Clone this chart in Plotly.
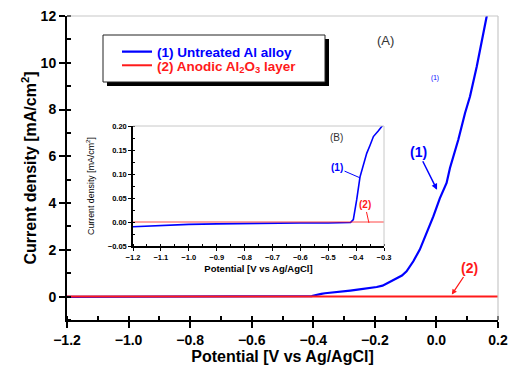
import plotly.graph_objects as go

# ---- data ----
potential_1 = [-1.2, -1.1, -1.0, -0.9, -0.8, -0.7, -0.6, -0.5, -0.42, -0.41, -0.405,
               -0.398, -0.386, -0.374, -0.362, -0.35, -0.338, -0.32, -0.30, -0.28,
               -0.25, -0.22, -0.194, -0.175, -0.162, -0.145, -0.129, -0.112, -0.097,
               -0.085, -0.075, -0.054, -0.032, -0.010, 0.011, 0.033, 0.044, 0.071,
               0.093, 0.109, 0.131, 0.147, 0.163, 0.166]
current_1 = [-0.010, -0.007, -0.005, -0.004, -0.003, -0.003, -0.002, -0.002, -0.001,
             0.005, 0.020, 0.046, 0.094, 0.120, 0.143, 0.160, 0.178, 0.190, 0.205,
             0.26, 0.31, 0.36, 0.41, 0.47, 0.56, 0.65, 0.76, 0.90, 1.08, 1.30, 1.51,
             2.01, 2.72, 3.43, 4.20, 4.86, 5.50, 6.71, 7.85, 8.56, 9.84, 10.83,
             11.97, 12.2]
potential_2 = [-1.2, -0.8, -0.4, 0.0, 0.2]
current_2 = [0.0, 0.0, 0.0, 0.0, 0.0]

name_1 = "(1) Untreated Al alloy"
name_2 = "(2) Anodic Al<sub>2</sub>O<sub>3</sub> layer"
x_title = "Potential [V vs Ag/AgCl]"
y_title = "Current density [mA/cm<sup>2</sup>]"

BLUE = "#0000ff"
RED = "#ff1a1a"
FONT = "Liberation Sans, Arial, sans-serif"

W, H = 509, 367
L, R, T, B = 67, 11, 16, 47
PW, PH = W - L - R, H - T - B


def px_x(p):
    return (p - L) / PW


def px_y(p):
    return (H - B - p) / PH


fig = go.Figure()

# main traces
fig.add_trace(go.Scatter(x=potential_1, y=current_1, mode="lines",
                         line=dict(color=BLUE, width=2.2),
                         name="<span style='color:%s'>%s</span>" % (BLUE, name_1),
                         legend="legend", xaxis="x", yaxis="y"))
fig.add_trace(go.Scatter(x=potential_2, y=current_2, mode="lines",
                         line=dict(color=RED, width=2),
                         name="<span style='color:%s'>%s</span>" % (RED, name_2),
                         legend="legend2", xaxis="x", yaxis="y"))
# inset traces
fig.add_trace(go.Scatter(x=potential_1, y=current_1, mode="lines",
                         line=dict(color=BLUE, width=1.6), showlegend=False,
                         xaxis="x2", yaxis="y2"))
fig.add_trace(go.Scatter(x=potential_2, y=current_2, mode="lines",
                         line=dict(color=RED, width=1), opacity=0.8,
                         showlegend=False, xaxis="x2", yaxis="y2"))

main_tick_font = dict(family=FONT, size=14, color="black", weight="bold")
inset_tick_font = dict(family=FONT, size=7.5, color="black", weight="bold")
legend_font = dict(family=FONT, size=13.5, weight="bold")

fig.update_layout(
    width=W, height=H,
    margin=dict(l=L, r=R, t=T, b=B, autoexpand=False),
    paper_bgcolor="white", plot_bgcolor="white",
    font=dict(family=FONT, color="black"),
    xaxis=dict(range=[-1.2, 0.2], dtick=0.2, tick0=-1.2, tickformat=".1f",
               showline=True, linecolor="black", linewidth=2,
               ticks="outside", ticklen=6, tickwidth=2, tickcolor="black",
               minor=dict(dtick=0.1, ticks="inside", ticklen=4, tickwidth=1.5,
                          tickcolor="black"),
               showgrid=False, zeroline=False, tickfont=main_tick_font,
               title=dict(text=x_title, standoff=4,
                          font=dict(family=FONT, size=16, weight="bold")),
               anchor="y", automargin=False),
    yaxis=dict(range=[-1, 12], dtick=2, tick0=0,
               showline=True, linecolor="black", linewidth=2,
               ticks="outside", ticklen=6, tickwidth=2, tickcolor="black",
               minor=dict(dtick=1, ticks="inside", ticklen=4, tickwidth=1.5,
                          tickcolor="black"),
               showgrid=False, zeroline=False, tickfont=main_tick_font,
               title=dict(text=y_title, standoff=0,
                          font=dict(family=FONT, size=16, weight="bold")),
               anchor="x", automargin=False),
    xaxis3=dict(range=[-1.2, 0.2], dtick=0.2, tick0=-1.2, overlaying="x",
                anchor="y", ticks="inside", ticklen=5, tickwidth=2,
                tickcolor="black", showticklabels=False, showline=False,
                showgrid=False, zeroline=False),
    yaxis3=dict(range=[-1, 12], dtick=2, tick0=0, overlaying="y",
                anchor="x", ticks="inside", ticklen=5, tickwidth=2,
                tickcolor="black", showticklabels=False, showline=False,
                showgrid=False, zeroline=False),
    xaxis2=dict(domain=[px_x(133), px_x(384)], range=[-1.2, -0.3], dtick=0.1,
                tick0=-1.2, tickformat=".1f", anchor="y2",
                showline=True, linecolor="black", linewidth=1.5,
                ticks="outside", ticklen=3, tickwidth=1.2, tickcolor="black",
                minor=dict(dtick=0.05, ticks="inside", ticklen=2, tickwidth=1,
                           tickcolor="black"),
                showgrid=False, zeroline=False, tickfont=inset_tick_font,
                title=dict(text=x_title, standoff=5,
                           font=dict(family=FONT, size=9.5, weight="bold")),
                automargin=False),
    yaxis2=dict(domain=[px_y(246), px_y(126)], range=[-0.05, 0.20], dtick=0.05,
                tick0=-0.05, tickformat=".2f", anchor="x2",
                showline=True, linecolor="black", linewidth=1.5,
                ticks="outside", ticklen=3, tickwidth=1.2, tickcolor="black",
                minor=dict(dtick=0.025, ticks="inside", ticklen=2, tickwidth=1,
                           tickcolor="black"),
                showgrid=False, zeroline=False, tickfont=inset_tick_font,
                title=dict(text=y_title, standoff=12,
                           font=dict(family=FONT, size=8.8)),
                automargin=False),
    legend=dict(x=px_x(117), y=px_y(36.4), xanchor="left", yanchor="top",
                bgcolor="rgba(0,0,0,0)", borderwidth=0, font=legend_font,
                itemwidth=30),
    legend2=dict(x=px_x(117), y=px_y(50), xanchor="left", yanchor="top",
                 bgcolor="rgba(0,0,0,0)", borderwidth=0, font=legend_font,
                 itemwidth=30),
    showlegend=True,
)

shapes = [
    # main top/right gray frame
    dict(type="line", xref="paper", yref="paper", x0=0, x1=1, y0=1, y1=1,
         line=dict(color="#c8c8c8", width=1.2)),
    dict(type="line", xref="paper", yref="paper", x0=1, x1=1, y0=0, y1=1,
         line=dict(color="#c8c8c8", width=1.2)),
    # inset top/right gray frame
    dict(type="line", xref="x2 domain", yref="y2 domain", x0=0, x1=1, y0=1, y1=1,
         line=dict(color="#c8c8c8", width=1)),
    dict(type="line", xref="x2 domain", yref="y2 domain", x0=1, x1=1, y0=0, y1=1,
         line=dict(color="#c8c8c8", width=1)),
    # legend shadow and box
    dict(type="rect", xref="paper", yref="paper", layer="above",
         x0=px_x(107), x1=px_x(329), y0=px_y(86), y1=px_y(39),
         fillcolor="black", line=dict(width=0)),
    dict(type="rect", xref="paper", yref="paper", layer="above",
         x0=px_x(103), x1=px_x(325), y0=px_y(82), y1=px_y(35),
         fillcolor="white", line=dict(color="#222", width=1)),
]
fig.update_layout(shapes=shapes)

annotations = [
    dict(x=0.002, y=4.57, xref="x", yref="y", text="(1)", showarrow=True,
         ax=-19, ay=-38, arrowhead=2, arrowsize=0.8, arrowwidth=1.5,
         arrowcolor=BLUE, font=dict(family=FONT, size=14, color=BLUE, weight="bold")),
    dict(x=0.05, y=0.09, xref="x", yref="y", text="(2)", showarrow=True,
         ax=18, ay=-27, arrowhead=2, arrowsize=0.8, arrowwidth=1.3,
         arrowcolor=RED, font=dict(family=FONT, size=14, color=RED, weight="bold")),
    dict(x=-0.167, y=10.94, xref="x", yref="y", text="(A)", showarrow=False,
         font=dict(family=FONT, size=13, color="#333")),
    dict(x=-0.005, y=9.36, xref="x", yref="y", text="(1)", showarrow=False,
         font=dict(family=FONT, size=6.5, color=BLUE)),
    dict(x=-0.469, y=0.177, xref="x2", yref="y2", text="(B)", showarrow=False,
         font=dict(family=FONT, size=10, color="#333")),
    dict(x=-0.386, y=0.092, xref="x2", yref="y2", text="(1)", showarrow=True,
         ax=-23, ay=-10, arrowhead=0, arrowwidth=1, arrowcolor=BLUE,
         font=dict(family=FONT, size=10, color=BLUE, weight="bold")),
    dict(x=-0.354, y=-0.002, xref="x2", yref="y2", text="(2)", showarrow=True,
         ax=-4, ay=-18, arrowhead=0, arrowwidth=1, arrowcolor=RED,
         font=dict(family=FONT, size=10, color=RED, weight="bold")),
]
fig.update_layout(annotations=annotations)

fig.write_html("out.html")
